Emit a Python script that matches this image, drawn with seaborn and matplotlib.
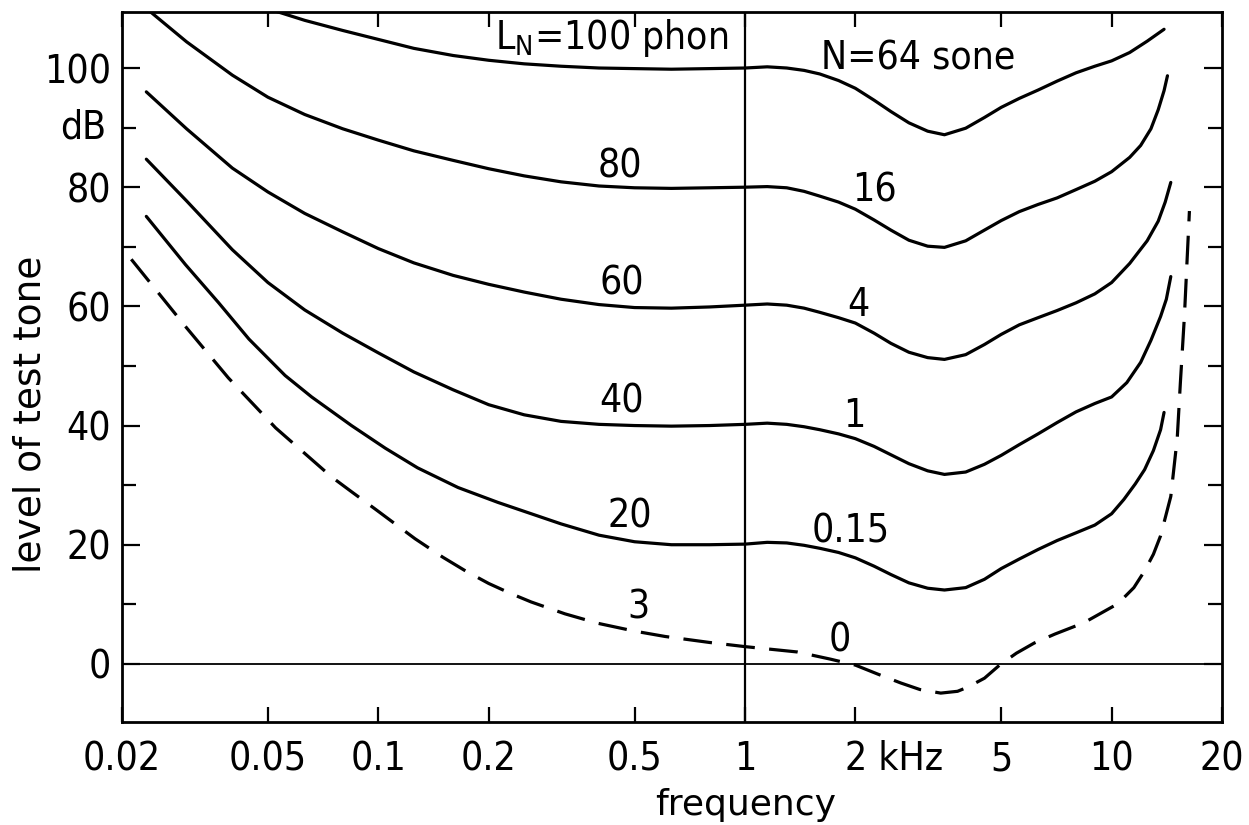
import matplotlib
matplotlib.use("Agg")
import matplotlib.pyplot as plt
import seaborn as sns
import pandas as pd
from matplotlib.ticker import NullLocator
from matplotlib.transforms import ScaledTranslation

# ---------------- data ----------------
# frequency in kHz, level of test tone in dB
f_100 = [0.0515, 0.063, 0.08, 0.1, 0.125, 0.16, 0.2, 0.25, 0.315, 0.4, 0.5, 0.63, 0.8, 1.0,
         1.15, 1.3, 1.45, 1.6, 1.8, 2.0, 2.25, 2.5, 2.8, 3.15, 3.5, 4.0, 4.5, 5.0, 5.6, 6.3,
         7.1, 8.0, 9.0, 10.0, 11.2, 12.5, 13.9]
L_100 = [109.7, 108.0, 106.3, 104.8, 103.3, 102.1, 101.3, 100.7, 100.3, 100.0, 99.9, 99.8, 99.9, 100.0,
         100.2, 100.0, 99.6, 99.0, 97.9, 96.6, 94.6, 92.7, 90.8, 89.4, 88.8, 89.9, 91.7, 93.4, 94.9, 96.3,
         97.8, 99.2, 100.3, 101.2, 102.6, 104.5, 106.5]

f_80 = [0.0233, 0.03, 0.04, 0.05, 0.063, 0.08, 0.1, 0.125, 0.16, 0.2, 0.25, 0.315, 0.4, 0.5,
        0.63, 0.8, 1.0, 1.15, 1.3, 1.45, 1.6, 1.8, 2.0, 2.25, 2.5, 2.8, 3.15, 3.5, 4.0, 4.5,
        5.0, 5.6, 6.3, 7.1, 8.0, 9.0, 10.0, 11.2, 12.0, 12.8, 13.4, 13.9, 14.2]
L_80 = [110.0, 104.4, 98.8, 95.1, 92.2, 89.8, 87.9, 86.1, 84.5, 83.1, 81.9, 80.9, 80.2, 79.9,
        79.8, 79.9, 80.0, 80.1, 79.9, 79.3, 78.5, 77.5, 76.3, 74.5, 72.8, 71.1, 70.1, 69.9, 71.0, 72.8,
        74.4, 75.9, 77.1, 78.2, 79.6, 81.0, 82.6, 85.0, 87.0, 89.8, 93.0, 96.2, 98.7]

f_60 = [0.0233, 0.03, 0.04, 0.05, 0.063, 0.08, 0.1, 0.125, 0.16, 0.2, 0.25, 0.315, 0.4, 0.5,
        0.63, 0.8, 1.0, 1.15, 1.3, 1.45, 1.6, 1.8, 2.0, 2.25, 2.5, 2.8, 3.15, 3.5, 4.0, 4.5,
        5.0, 5.6, 6.3, 7.1, 8.0, 9.0, 10.0, 11.2, 12.5, 13.4, 14.0, 14.5]
L_60 = [96.0, 89.8, 83.2, 79.2, 75.6, 72.5, 69.7, 67.3, 65.2, 63.7, 62.4, 61.2, 60.3, 59.8,
        59.7, 59.9, 60.2, 60.4, 60.2, 59.7, 59.0, 58.1, 57.2, 55.5, 53.8, 52.3, 51.4, 51.1, 51.9, 53.6,
        55.3, 56.9, 58.1, 59.3, 60.6, 62.1, 64.0, 67.2, 71.0, 74.3, 77.5, 80.8]

f_40 = [0.0233, 0.03, 0.04, 0.05, 0.063, 0.08, 0.1, 0.125, 0.16, 0.2, 0.25, 0.315, 0.4, 0.5,
        0.63, 0.8, 1.0, 1.15, 1.3, 1.45, 1.6, 1.8, 2.0, 2.25, 2.5, 2.8, 3.15, 3.5, 4.0, 4.5,
        5.0, 5.6, 6.3, 7.1, 8.0, 9.0, 10.0, 11.0, 12.0, 12.8, 13.6, 14.1, 14.5]
L_40 = [84.7, 77.7, 69.5, 64.0, 59.4, 55.5, 52.2, 49.0, 46.0, 43.5, 41.8, 40.7, 40.2, 40.0,
        39.9, 40.0, 40.2, 40.4, 40.2, 39.8, 39.3, 38.6, 37.8, 36.5, 35.1, 33.6, 32.4, 31.8, 32.2, 33.5,
        35.0, 36.8, 38.6, 40.5, 42.3, 43.7, 44.8, 47.2, 50.6, 54.3, 58.3, 61.2, 65.0]

f_20 = [0.0233, 0.0298, 0.0367, 0.0444, 0.0557, 0.0658, 0.0845, 0.1045, 0.128, 0.165, 0.212,
        0.25, 0.315, 0.4, 0.5, 0.63, 0.8, 1.0, 1.15, 1.3, 1.45, 1.6, 1.8, 2.0, 2.25, 2.5,
        2.8, 3.15, 3.5, 4.0, 4.5, 5.0, 5.6, 6.3, 7.1, 8.0, 9.0, 10.0, 10.8, 11.6, 12.3,
        13.0, 13.6, 13.9]
L_20 = [75.1, 67.0, 60.6, 54.5, 48.4, 44.8, 40.0, 36.2, 32.9, 29.6, 27.1,
        25.6, 23.5, 21.6, 20.5, 20.0, 20.0, 20.1, 20.4, 20.3, 19.9, 19.4, 18.7, 17.8, 16.4, 15.0,
        13.6, 12.7, 12.4, 12.8, 14.2, 16.0, 17.6, 19.2, 20.7, 22.0, 23.3, 25.2, 27.6, 30.2, 32.6,
        35.8, 39.3, 42.2]

f_thr = [0.0212, 0.030, 0.039, 0.0525, 0.0745, 0.0845, 0.098, 0.126, 0.15, 0.173, 0.2, 0.23,
         0.261, 0.323, 0.398, 0.5, 0.606, 0.8, 1.0, 1.39, 1.71, 2.0, 2.3, 2.66, 3.0, 3.42,
         3.8, 4.05, 4.5, 4.97, 5.5, 6.15, 7.0, 8.4, 10.4, 11.5, 12.3, 13.0, 13.6, 14.5,
         15.1, 15.4, 15.8, 16.3]
L_thr = [67.9, 56.4, 48.0, 39.6, 31.4, 28.9, 26.0, 21.0, 17.9, 15.6, 13.5, 11.8,
         10.4, 8.4, 6.8, 5.5, 4.6, 3.6, 2.9, 2.0, 0.8, -0.2, -1.7, -3.2, -4.3, -4.9,
         -4.6, -3.9, -2.4, -0.1, 1.8, 3.5, 5.0, 6.9, 10.1, 12.8, 15.6, 18.4, 21.5, 28.1,
         37.9, 47.2, 58.5, 76.0]

# curve labels: loudness level in phon (left of 1 kHz) and loudness in sone (right)
phon_labels = ["80", "60", "40", "20", "3"]
phon_f = [0.456, 0.462, 0.462, 0.486, 0.511]
phon_L = [81.7, 62.0, 42.2, 22.9, 7.7]

sone_labels = ["16", "4", "1", "0.15", "0"]
sone_f = [2.26, 2.04, 1.99, 1.94, 1.81]
sone_L = [77.6, 58.3, 39.7, 20.3, 2.0]

x_ticks = [0.02, 0.05, 0.1, 0.2, 0.5, 1, 2, 5, 10, 20]
x_ticklabels = ["0.02", "0.05", "0.1", "0.2", "0.5", "1", "2 kHz", "5", "10", "20"]
y_ticks = [0, 20, 40, 60, 80, 100]
y_ticklabels = ["0", "20", "40", "60", "80", "100"]
y_minor = [10, 30, 50, 70, 90]

# ---------------- figure ----------------
sns.set_theme(style="white")
plt.rcParams["font.family"] = ["DejaVu Sans"]
plt.rcParams["font.stretch"] = "condensed"
for k in ["text.color", "axes.labelcolor", "xtick.color", "ytick.color", "axes.edgecolor"]:
    plt.rcParams[k] = "black"

NUM = 28  # size of the numbers and labels written on the chart

fig = plt.figure(figsize=(12.49, 8.25), dpi=100)
ax = fig.add_axes([122 / 1249, 1 - 722 / 825, 1100 / 1249, 710 / 825])
ax.set_xscale("log")

curves = [
    (f_100, L_100, "-"),
    (f_80, L_80, "-"),
    (f_60, L_60, "-"),
    (f_40, L_40, "-"),
    (f_20, L_20, "-"),
    (f_thr, L_thr, (0, (9, 4.5))),
]
for fx, ly, ls in curves:
    df = pd.DataFrame({"f": fx, "L": ly})
    sns.lineplot(data=df, x="f", y="L", ax=ax, color="black", linewidth=2.3,
                 linestyle=ls, estimator=None, sort=False, legend=False)

ax.axhline(0, color="black", lw=1.3, zorder=1)
ax.axvline(1, color="black", lw=1.6, zorder=1)

ax.set_xlim(0.02, 20)
ax.set_ylim(-9.75, 109.4)

ax.set_xticks(x_ticks)
ax.set_xticklabels(x_ticklabels)
ax.xaxis.set_minor_locator(NullLocator())
ax.set_yticks(y_ticks)
ax.set_yticklabels(y_ticklabels)
ax.set_yticks(y_minor, minor=True)

ax.tick_params(axis="x", which="major", direction="in", length=11, width=1.6,
               top=True, bottom=True, pad=13, labelsize=NUM)
ax.tick_params(axis="y", which="major", direction="in", length=13, width=1.6,
               left=True, right=True, pad=8, labelsize=NUM)
ax.tick_params(axis="y", which="minor", direction="in", length=10, width=1.6,
               left=True, right=True)

for sp in ax.spines.values():
    sp.set_visible(True)
    sp.set_linewidth(2.0)
    sp.set_color("black")

# the "2" of "2 kHz" sits on its tick
for tk in ax.xaxis.get_major_ticks():
    if tk.label1.get_text() == "2 kHz":
        tk.label1.set_horizontalalignment("left")
        tk.label1.set_transform(tk.label1.get_transform() +
                                ScaledTranslation(-10 / 100, 0, fig.dpi_scale_trans))

# "dB" unit label on the y axis at 90
ax.annotate("dB", xy=(0, 90), xycoords=("axes fraction", "data"),
            xytext=(-11, 0), textcoords="offset points",
            ha="right", va="center", fontsize=NUM)

# curve labels
for t, fx, ly in zip(phon_labels, phon_f, phon_L):
    ax.text(fx, ly, t, ha="center", va="baseline", fontsize=NUM)
for t, fx, ly in zip(sone_labels, sone_f, sone_L):
    ax.text(fx, ly, t, ha="center", va="baseline", fontsize=NUM)

ax.text(0.90, 103.2, r"$\mathregular{L_N}$=100 phon", ha="right", va="baseline", fontsize=NUM)
ax.text(1.61, 99.8, "N=64 sone", ha="left", va="baseline", fontsize=NUM)

ax.set_xlabel("frequency", fontsize=26, fontstretch="normal")
ax.xaxis.set_label_coords(0.567, -0.093)
ax.set_ylabel("level of test tone", fontsize=27, fontstretch="normal")
ax.yaxis.set_label_coords(-0.067, 0.434)

fig.savefig("out.png", dpi=100, facecolor="white")
